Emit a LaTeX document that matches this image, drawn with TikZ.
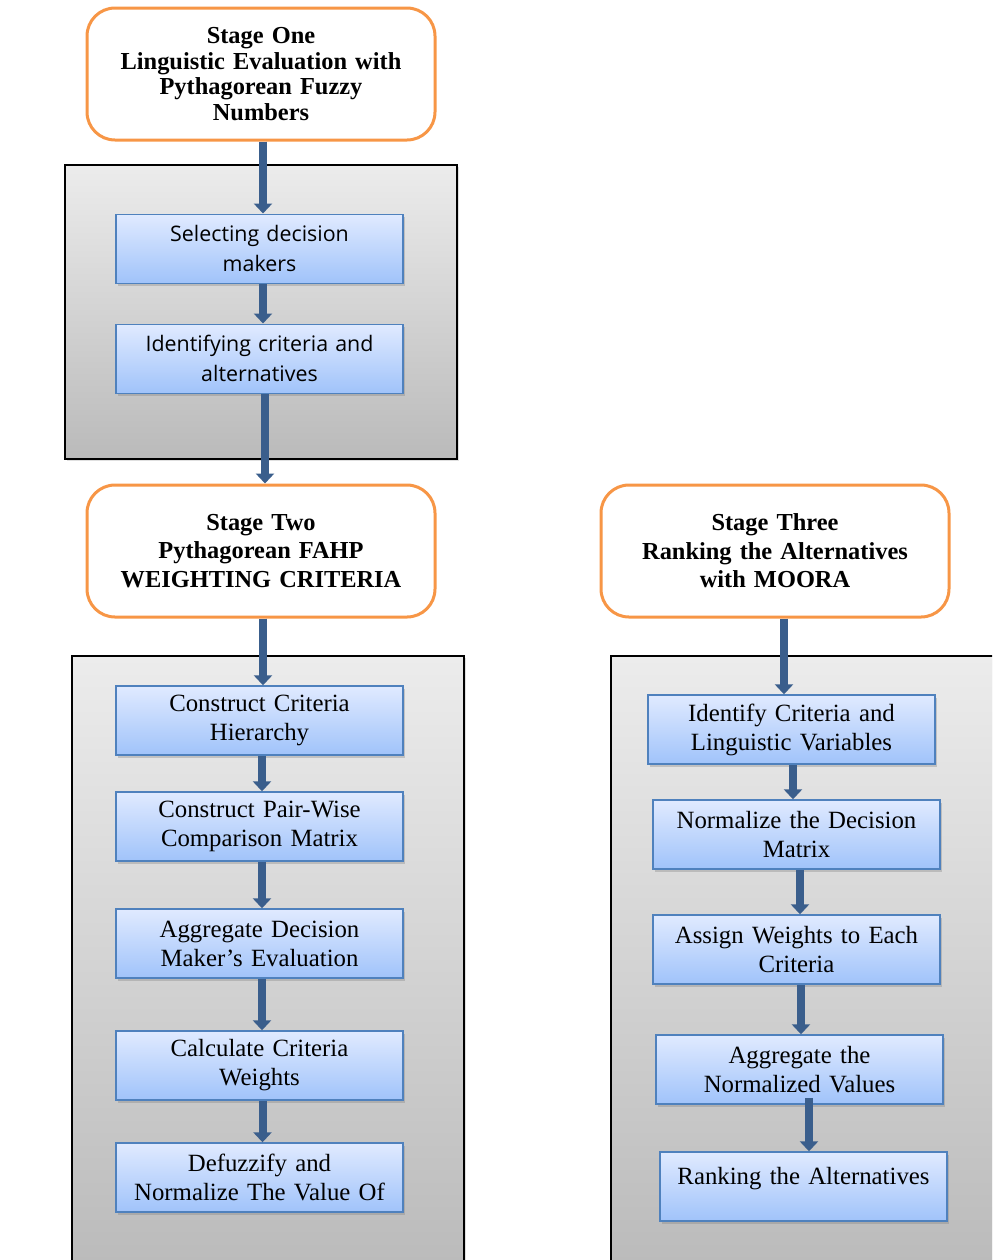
\documentclass[tikz,border=0pt]{standalone}
\usepackage{fontspec}
\setmainfont{Liberation Serif}
\newfontfamily\osans{Open Sans}
\usepackage{tikz}
\usetikzlibrary{positioning,arrows.meta,shadows}
\definecolor{stageorange}{RGB}{247, 150, 70}
\definecolor{stepborder}{RGB}{79, 129, 189}
\definecolor{steptop}{RGB}{224, 234, 255}
\definecolor{stepbottom}{RGB}{160, 195, 250}
\definecolor{flowblue}{RGB}{58, 94, 140}
\definecolor{paneltop}{RGB}{236, 236, 236}
\definecolor{panelbottom}{RGB}{186, 186, 186}

\begin{document}
\begin{tikzpicture}[
    x=0.5pt, y=-0.5pt,
    node distance=20pt,
    stagebox/.style={draw=stageorange, line width=1.5pt, rounded corners=14pt, fill=white,
        align=center, minimum width=174pt, minimum height=66pt, text width=166pt,
        font=\bfseries\fontsize{12.2}{14.3}\selectfont},
    panel/.style={draw=black, line width=0.8pt, top color=paneltop, bottom color=panelbottom,
        drop shadow={shadow xshift=1pt, shadow yshift=-1pt, opacity=0.25}},
    stepbox/.style={draw=stepborder, line width=0.75pt, top color=steptop, bottom color=stepbottom,
        align=center, minimum width=143.5pt, minimum height=34.5pt, text width=140pt, inner sep=1.5pt,
        drop shadow={shadow xshift=1pt, shadow yshift=-1.5pt, opacity=0.35}},
    serifbox/.style={stepbox, font=\fontsize{12.4}{14.5}\selectfont},
    sansbox/.style={stepbox, font=\osans\fontsize{10.7}{15}\selectfont},
    arrow/.style={-{Triangle[width=9pt, length=5pt]}, line width=4pt, draw=flowblue}
]
\useasboundingbox (0,0) rectangle (992,1260);
\clip (0,0) rectangle (992,1260);

% grey panels behind the steps
\node[panel, minimum width=196pt, minimum height=147pt] (panelone) at (261,312) {};
\node[panel, minimum width=196pt, minimum height=309.5pt] (paneltwo) at (268,965.5) {};
\node[panel, minimum width=199.5pt, minimum height=309.5pt] (panelthree) at (810.5,965.5) {};

% stage one
\node[stagebox, font=\bfseries\fontsize{12.2}{12.7}\selectfont] (one) at (261,74)
    {Stage One\\Linguistic Evaluation with\\Pythagorean Fuzzy\\Numbers};
\node[sansbox, below=36pt of one, xshift=-0.75pt] (select) {Selecting decision\\makers};
\node[sansbox, below=19.75pt of select] (identify) {Identifying criteria and\\alternatives};

% stage two
\node[stagebox] (two) at (261,551) {Stage Two\\Pythagorean FAHP\\WEIGHTING CRITERIA};
\node[serifbox, below=33.4pt of two, xshift=-0.75pt] (hierarchy) {Construct Criteria\\Hierarchy};
\node[serifbox, below=17.75pt of hierarchy] (pairwise) {Construct Pair-Wise\\Comparison Matrix};
\node[serifbox, below=23.25pt of pairwise] (aggregate) {Aggregate Decision\\Maker’s Evaluation};
\node[serifbox, below=25.75pt of aggregate] (weights) {Calculate Criteria\\Weights};
\node[serifbox, below=20.75pt of weights] (defuzzify) {Defuzzify and\\Normalize The Value Of};

% stage three
\node[stagebox] (three) at (775,551) {Stage Three\\Ranking the Alternatives\\with MOORA};
\node[serifbox, below=37.9pt of three, xshift=8.25pt] (variables) {Identify Criteria and\\Linguistic Variables};
\node[serifbox, below=17.25pt of variables, xshift=2.5pt] (normalize) {Normalize the Decision\\Matrix};
\node[serifbox, below=22.25pt of normalize] (assign) {Assign Weights to Each\\Criteria};
\node[serifbox, below=24.75pt of assign, xshift=1.5pt] (aggvalues) {Aggregate the\\Normalized Values};
\node[serifbox, below=23.25pt of aggvalues, xshift=2pt, font=\fontsize{12.4}{11}\selectfont] (rank)
    {Ranking the Alternatives\\\mbox{}};

\draw[arrow] ([xshift=1pt]one.south) -- ([xshift=1pt]one.south |- select.north);
\draw[arrow] ([xshift=1.75pt]select.south) -- ([xshift=1.75pt]select.south |- identify.north);
\draw[arrow] ([xshift=2.75pt]identify.south) -- ([xshift=2.75pt]identify.south |- two.north);
\draw[arrow] ([xshift=1pt]two.south) -- ([xshift=1pt]two.south |- hierarchy.north);
\draw[arrow] ([xshift=1.25pt]hierarchy.south) -- ([xshift=1.25pt]hierarchy.south |- pairwise.north);
\draw[arrow] ([xshift=1.25pt]pairwise.south) -- ([xshift=1.25pt]pairwise.south |- aggregate.north);
\draw[arrow] ([xshift=1.25pt]aggregate.south) -- ([xshift=1.25pt]aggregate.south |- weights.north);
\draw[arrow] ([xshift=1.5pt]weights.south) -- ([xshift=1.5pt]weights.south |- defuzzify.north);
\draw[arrow] ([xshift=4.5pt]three.south) -- ([xshift=4.5pt]three.south |- variables.north);
\draw[arrow] ([xshift=0.75pt]variables.south) -- ([xshift=0.75pt]variables.south |- normalize.north);
\draw[arrow] ([xshift=1.75pt]normalize.south) -- ([xshift=1.75pt]normalize.south |- assign.north);
\draw[arrow] ([xshift=2.25pt]assign.south) -- ([xshift=2.25pt]assign.south |- aggvalues.north);
\draw[arrow] ([xshift=4.75pt,yshift=3.5pt]aggvalues.south) -- ([xshift=4.75pt]aggvalues.south |- rank.north);
\end{tikzpicture}
\end{document}
